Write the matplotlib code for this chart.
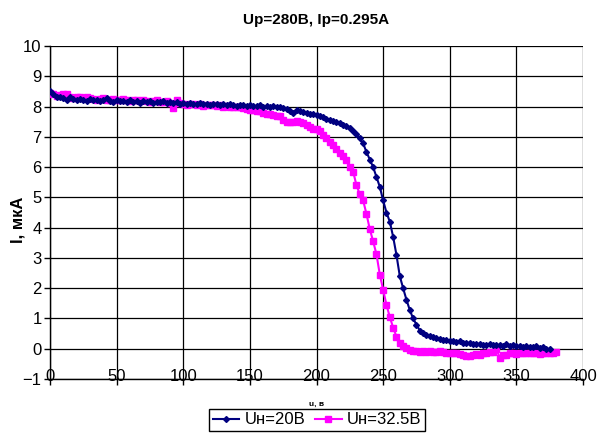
import numpy as np
import matplotlib
matplotlib.use("Agg")
import matplotlib.pyplot as plt

plt.rcParams["font.family"] = ["Liberation Sans", "DejaVu Sans"]

# ---------------------------------------------------------------------------
# Data, voltage sweep step 2.5 V
# ---------------------------------------------------------------------------
U_STEP = 2.5

I_20 = [
    8.52, 8.42, 8.33, 8.30, 8.27, 8.22, 8.30, 8.24, 8.20, 8.26,
    8.22, 8.18, 8.24, 8.20, 8.22, 8.17, 8.21, 8.28, 8.18, 8.16,
    8.22, 8.17, 8.19, 8.14, 8.20, 8.16, 8.18, 8.13, 8.17, 8.15,
    8.18, 8.12, 8.16, 8.14, 8.19, 8.11, 8.14, 8.12, 8.15, 8.10,
    8.13, 8.08, 8.12, 8.10, 8.07, 8.11, 8.08, 8.10, 8.06, 8.09,
    8.07, 8.05, 8.08, 8.04, 8.07, 8.05, 8.03, 8.06, 8.04, 8.02,
    8.05, 8.03, 8.01, 8.04, 8.00, 8.02, 7.99, 8.01, 7.97, 8.00,
    7.96, 7.92, 7.86, 7.80, 7.88, 7.85, 7.82, 7.80, 7.77, 7.75,
    7.72, 7.68, 7.64, 7.60, 7.56, 7.52, 7.48, 7.44, 7.40, 7.35,
    7.30, 7.20, 7.08, 6.95, 6.78, 6.50, 6.25, 6.00, 5.68, 5.35,
    4.90, 4.50, 4.20, 3.70, 3.10, 2.40, 2.00, 1.62, 1.28, 1.00,
    0.80, 0.60, 0.52, 0.46, 0.42, 0.38, 0.36, 0.33, 0.30, 0.28,
    0.27, 0.25, 0.22, 0.24, 0.19, 0.18, 0.20, 0.16, 0.14, 0.17,
    0.13, 0.12, 0.15, 0.11, 0.13, 0.12, 0.10, 0.14, 0.09, 0.11,
    0.08, 0.10, 0.06, 0.09, 0.07, 0.05, 0.08, 0.03, 0.05, 0.00,
    -0.02,
]

I_325 = [
    8.45, 8.40, 8.35, 8.38, 8.42, 8.40, 8.30, 8.28, 8.32, 8.30,
    8.27, 8.30, 8.28, 8.25, 8.22, 8.25, 8.27, 8.23, 8.20, 8.25,
    8.22, 8.20, 8.24, 8.20, 8.18, 8.22, 8.20, 8.17, 8.20, 8.18,
    8.15, 8.18, 8.20, 8.16, 8.14, 8.18, 8.12, 7.95, 8.20, 8.13,
    8.10, 8.05, 8.08, 8.10, 8.06, 8.08, 8.03, 8.06, 8.04, 8.05,
    8.02, 8.04, 8.00, 8.03, 8.00, 7.98, 7.97, 7.98, 7.95, 7.93,
    7.90, 7.88, 7.86, 7.84, 7.80, 7.76, 7.75, 7.72, 7.70, 7.68,
    7.55, 7.50, 7.48, 7.50, 7.53, 7.48, 7.44, 7.40, 7.32, 7.27,
    7.26, 7.20, 7.05, 6.95, 6.82, 6.72, 6.60, 6.45, 6.35, 6.25,
    6.00, 5.85, 5.40, 5.10, 4.90, 4.45, 3.95, 3.55, 3.12, 2.45,
    1.95, 1.45, 1.05, 0.70, 0.40, 0.20, 0.08, 0.02, -0.05, -0.08,
    -0.09, -0.10, -0.09, -0.10, -0.09, -0.12, -0.10, -0.09, -0.11, -0.14,
    -0.13, -0.15, -0.14, -0.18, -0.20, -0.24, -0.25, -0.22, -0.18, -0.20,
    -0.14, -0.13, -0.12, -0.10, 0.00, -0.30, -0.20, -0.22, -0.15, -0.14,
    -0.16, -0.14, -0.15, -0.14, -0.13, -0.15, -0.14, -0.16, -0.14, -0.13,
    -0.15, -0.14, -0.12,
]

U_20 = np.arange(len(I_20)) * U_STEP
U_325 = np.arange(len(I_325)) * U_STEP

X_TICKS = np.arange(0, 401, 50)
Y_TICKS = np.arange(-1, 11, 1)

# ---------------------------------------------------------------------------
# Plot
# ---------------------------------------------------------------------------
fig = plt.figure(figsize=(5.98, 4.34), dpi=100)
ax = fig.add_axes([50 / 598, 1 - 379 / 434, 533 / 598, 333 / 434])

ax.plot(U_20, I_20, color="#000080", marker="D", markersize=3,
        linewidth=1.5, label="Uн=20В", zorder=4)
ax.plot(U_325, I_325, color="#FF00FF", marker="s", markersize=4,
        linewidth=1.5, label="Uн=32.5В", zorder=3)

ax.set_xlim(0, 400)
ax.set_ylim(-1, 10)
ax.set_xticks(X_TICKS)
ax.set_yticks(Y_TICKS)
ax.grid(True, color="black", linewidth=0.9)
ax.set_axisbelow(True)

for side in ["top", "right"]:
    ax.spines[side].set_visible(False)
for side in ["left", "bottom"]:
    ax.spines[side].set_linewidth(1.0)

ax.tick_params(axis="y", labelsize=12, length=4, width=1, pad=2)
ax.tick_params(axis="x", labelsize=12, length=4, width=1, pad=-11)

fig.text(316 / 598, 1 - 20 / 434, "Up=280B, Ip=0.295A",
         ha="center", va="center", fontsize=11, fontweight="bold")
fig.text(18 / 598, 1 - 220 / 434, "I, мкА", rotation=90,
         ha="center", va="center", fontsize=12, fontweight="bold")
fig.text(317 / 598, 1 - 404 / 434, "u, в",
         ha="center", va="center", fontsize=6, fontweight="bold")

leg = fig.legend(loc="upper center", bbox_to_anchor=(317 / 598, 1 - 409 / 434),
                 ncol=2, fontsize=12, frameon=True, fancybox=False,
                 edgecolor="black", framealpha=1, handlelength=1.6,
                 handletextpad=0.3, columnspacing=0.6, borderpad=0.2,
                 borderaxespad=0)
leg.get_frame().set_linewidth(1.0)

fig.savefig("out.png", dpi=100)
